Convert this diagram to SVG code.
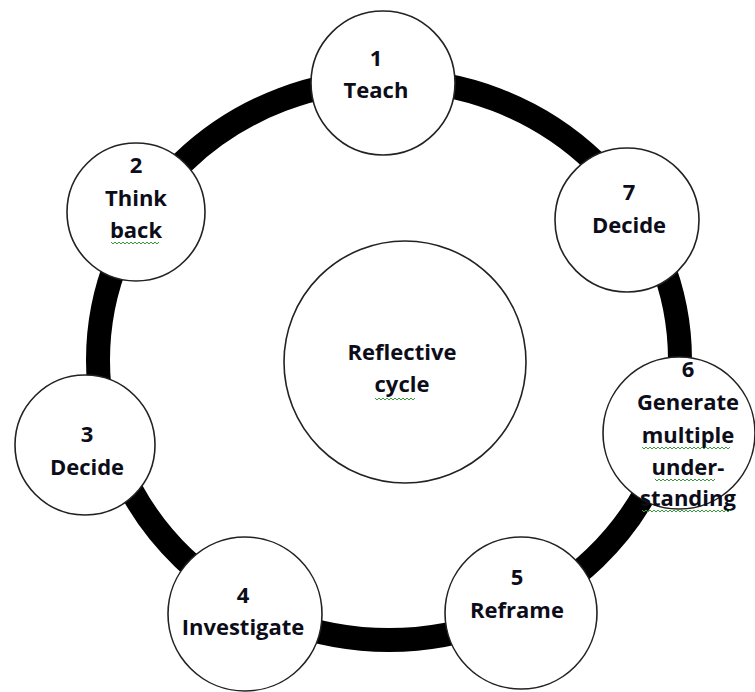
<svg xmlns="http://www.w3.org/2000/svg" width="755" height="692" viewBox="0 0 755 692">
<style>
.node{fill:#fff;stroke:#222;stroke-width:1.6}
.t{font-family:"Open Sans","Noto Sans","Liberation Sans",sans-serif;font-weight:bold;font-size:22px;fill:#0d0d1a;text-anchor:middle}
.sq{fill:none;stroke:#3a9c3a;stroke-width:1}
</style>
<rect width="755" height="692" fill="#fff"/>
<g id="connectors">
<ellipse cx="389" cy="360" rx="291" ry="280" fill="none" stroke="#000" stroke-width="24"/>
</g>
<g id="center">
<circle class="node" cx="405" cy="362" r="121"/>
<text class="t" x="402" y="360">Reflective</text>
<text class="t" x="402" y="392">cycle</text>
<path class="sq" d="M375 398 l2 2 l2 -2 l2 2 l2 -2 l2 2 l2 -2 l2 2 l2 -2 l2 2 l2 -2 l2 2 l2 -2 l2 2 l2 -2 l2 2 l2 -2 l2 2 l2 -2 l2 2 l2 -2"/>
</g>
<g id="n1">
<circle class="node" cx="383" cy="83" r="72"/>
<text class="t" x="376" y="66">1</text>
<text class="t" x="376" y="98">Teach</text>
</g>
<g id="n2">
<circle class="node" cx="136" cy="212" r="69"/>
<text class="t" x="136" y="173">2</text>
<text class="t" x="136" y="206">Think</text>
<text class="t" x="136" y="238">back</text>
<path class="sq" d="M111 242 l2 2 l2 -2 l2 2 l2 -2 l2 2 l2 -2 l2 2 l2 -2 l2 2 l2 -2 l2 2 l2 -2 l2 2 l2 -2 l2 2 l2 -2 l2 2 l2 -2 l2 2 l2 -2 l2 2 l2 -2 l2 2 l2 -2"/>
</g>
<g id="n3">
<circle class="node" cx="85" cy="445" r="70"/>
<text class="t" x="87" y="442">3</text>
<text class="t" x="87" y="475">Decide</text>
</g>
<g id="n4">
<circle class="node" cx="245" cy="614" r="77"/>
<text class="t" x="243" y="603">4</text>
<text class="t" x="243" y="635">Investigate</text>
</g>
<g id="n5">
<circle class="node" cx="521" cy="613" r="76"/>
<text class="t" x="517" y="585">5</text>
<text class="t" x="517" y="618">Reframe</text>
</g>
<g id="n6">
<circle class="node" cx="679" cy="433" r="76"/>
<text class="t" x="688" y="377">6</text>
<text class="t" x="688" y="410">Generate</text>
<text class="t" x="688" y="443">multiple</text>
<text class="t" x="688" y="475">under-</text>
<text class="t" x="688" y="506">standing</text>
<path class="sq" d="M642 447 l2 2 l2 -2 l2 2 l2 -2 l2 2 l2 -2 l2 2 l2 -2 l2 2 l2 -2 l2 2 l2 -2 l2 2 l2 -2 l2 2 l2 -2 l2 2 l2 -2 l2 2 l2 -2 l2 2 l2 -2 l2 2 l2 -2 l2 2 l2 -2 l2 2 l2 -2 l2 2 l2 -2 l2 2 l2 -2 l2 2 l2 -2 l2 2 l2 -2 l2 2 l2 -2 l2 2 l2 -2 l2 2 l2 -2 l2 2 l2 -2"/>
<path class="sq" d="M655 479 l2 2 l2 -2 l2 2 l2 -2 l2 2 l2 -2 l2 2 l2 -2 l2 2 l2 -2 l2 2 l2 -2 l2 2 l2 -2 l2 2 l2 -2 l2 2 l2 -2 l2 2 l2 -2 l2 2 l2 -2 l2 2 l2 -2 l2 2 l2 -2 l2 2 l2 -2 l2 2 l2 -2"/>
<path class="sq" d="M642 510 l2 2 l2 -2 l2 2 l2 -2 l2 2 l2 -2 l2 2 l2 -2 l2 2 l2 -2 l2 2 l2 -2 l2 2 l2 -2 l2 2 l2 -2 l2 2 l2 -2 l2 2 l2 -2 l2 2 l2 -2 l2 2 l2 -2 l2 2 l2 -2 l2 2 l2 -2 l2 2 l2 -2 l2 2 l2 -2 l2 2 l2 -2 l2 2 l2 -2 l2 2 l2 -2 l2 2 l2 -2 l2 2 l2 -2 l2 2 l2 -2"/>
</g>
<g id="n7">
<circle class="node" cx="627" cy="220" r="72"/>
<text class="t" x="629" y="200">7</text>
<text class="t" x="629" y="233">Decide</text>
</g>
</svg>
